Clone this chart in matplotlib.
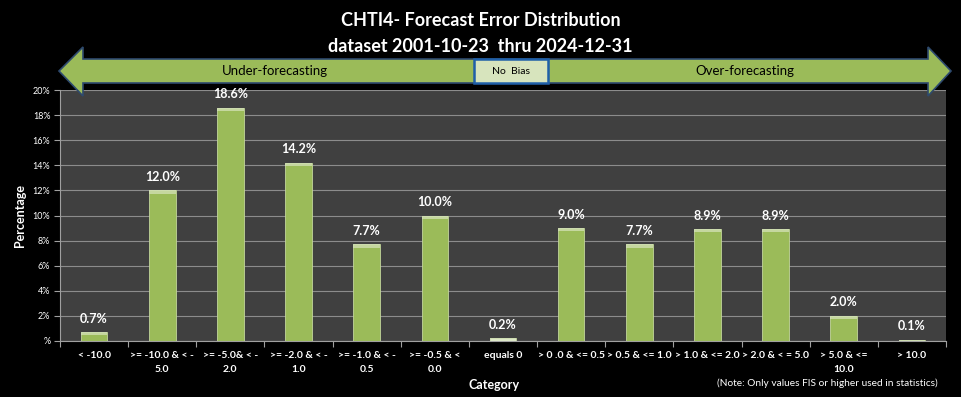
import matplotlib
matplotlib.use("Agg")
import matplotlib.pyplot as plt
from matplotlib.patches import Polygon, Rectangle
import numpy as np

plt.rcParams['font.family'] = ['Lato', 'DejaVu Sans']

categories = ["< -10.0", ">= -10.0 & < -\n5.0", ">= -5.0& < -\n2.0", ">= -2.0 & < -\n1.0",
              ">= -1.0 & < -\n0.5", ">= -0.5 & <\n0.0", "equals 0", "> 0 .0 & <= 0.5",
              "> 0.5 & <= 1.0", "> 1.0 & <= 2.0", "> 2.0 & < = 5.0", "> 5.0 & <=\n10.0", "> 10.0"]
values = [0.7, 12.0, 18.6, 14.2, 7.7, 10.0, 0.2, 9.0, 7.7, 8.9, 8.9, 2.0, 0.1]
value_labels = ["0.7%", "12.0%", "18.6%", "14.2%", "7.7%", "10.0%", "0.2%", "9.0%", "7.7%", "8.9%", "8.9%", "2.0%", "0.1%"]
yticks = [0, 2, 4, 6, 8, 10, 12, 14, 16, 18, 20]
ytick_labels = ["%", "2%", "4%", "6%", "8%", "10%", "12%", "14%", "16%", "18%", "20%"]

W, H = 961, 397
fig = plt.figure(figsize=(W/100, H/100), dpi=100)
fig.patch.set_facecolor('black')

ax = fig.add_axes([60/W, (H-341)/H, 886/W, 251/H])
ax.set_facecolor('#404040')

x = np.arange(len(categories))
colors = ['#9BBB59'] * len(values)
colors[6] = '#EBF1DE'
ax.bar(x, values, width=0.39, color=colors, edgecolor='#C3D69B', linewidth=0.6, zorder=3)
# bevel highlight on top of each bar
ax.bar(x, [min(v, 0.25) for v in values], bottom=[v - min(v, 0.25) for v in values], width=0.39,
       color='#D7E4BD', linewidth=0, zorder=3.5, alpha=0.7)
for xi, v, lab in zip(x, values, value_labels):
    ax.text(xi, v + 0.6, lab, ha='center', va='bottom', color='white', fontsize=9, fontweight='bold', zorder=4)

ax.set_xlim(-0.5, len(categories) - 0.5)
ax.set_ylim(0, 20)
ax.set_yticks(yticks)
ax.set_yticklabels(ytick_labels, color='white', fontsize=6.5)
ax.yaxis.grid(True, color='#8C8C8C', linewidth=0.8, zorder=0)
ax.set_axisbelow(True)

ax.set_xticks(x)
ax.set_xticklabels(categories, color='white', fontsize=7.5, fontweight='bold', linespacing=1.75)
ax.tick_params(axis='x', which='major', length=0, pad=7)
ax.set_xticks(np.arange(-0.5, len(categories), 1.0), minor=True)
ax.tick_params(axis='x', which='minor', length=4, color='#A0A0A0', width=0.8)
ax.tick_params(axis='y', length=4, color='#A0A0A0', width=0.8, pad=3)

for s in ['top', 'right']:
    ax.spines[s].set_visible(False)
for s in ['left', 'bottom']:
    ax.spines[s].set_color('#A0A0A0')
    ax.spines[s].set_linewidth(0.8)

ax.set_xlabel("Category", color='white', fontsize=9, fontweight='bold')
ax.xaxis.set_label_coords((494 - 60) / 886, -(385 - 341) / 251)
ax.xaxis.label.set_va('center')
ax.set_ylabel("Percentage", color='white', fontsize=9, fontweight='bold', labelpad=5)

fig.text(0.5, 1 - 21/H, "CHTI4- Forecast Error Distribution", ha='center', va='center',
         color='white', fontsize=13, fontweight='bold')
fig.text(0.5, 1 - 46/H, "dataset 2001-10-23  thru 2024-12-31", ha='center', va='center',
         color='white', fontsize=13, fontweight='bold')

def fx(px):
    return px / W

def fy(py):
    return 1 - py / H

arrow_pts = [(59, 71), (83, 47), (83, 59), (928, 59), (928, 47), (951, 71), (928, 96), (928, 83), (83, 83), (83, 96)]
arrow = Polygon([(fx(a), fy(b)) for a, b in arrow_pts], closed=True, transform=fig.transFigure,
                facecolor='#9BBB59', edgecolor='#2E4A6E', linewidth=1.2, zorder=5)
fig.patches.append(arrow)
box = Rectangle((fx(474), fy(83)), fx(548) - fx(474), fy(59) - fy(83), transform=fig.transFigure,
                facecolor='#D7E4BD', edgecolor='#1F5FA8', linewidth=1.8, zorder=6)
fig.patches.append(box)
fig.text(fx(511), fy(71), "No  Bias", ha='center', va='center', color='black', fontsize=7.5, zorder=7)
fig.text(fx(275), fy(71), "Under-forecasting", ha='center', va='center', color='black', fontsize=9.5, zorder=7)
fig.text(fx(745), fy(71), "Over-forecasting", ha='center', va='center', color='black', fontsize=9.5, zorder=7)

fig.text(fx(827), fy(383), "(Note: Only values FIS or higher used in statistics)", ha='center', va='center',
         color='white', fontsize=7.3)

fig.savefig("out.png", dpi=100, facecolor='black')
